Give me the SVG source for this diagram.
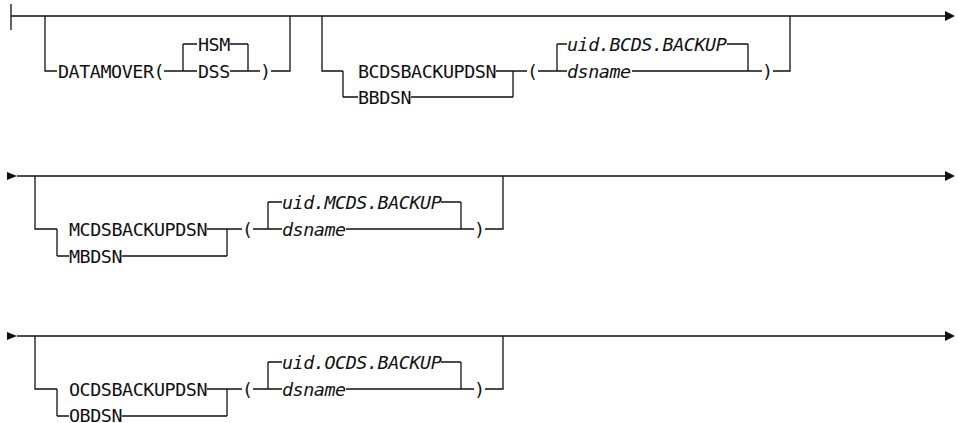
<svg xmlns="http://www.w3.org/2000/svg" width="959" height="423" viewBox="0 0 959 423">
<style>
  .l { stroke: #111; stroke-width: 1.3; fill: none; }
  .t { font-family: "DejaVu Sans Mono", "Liberation Mono", monospace; font-size: 18.4px; letter-spacing: -0.45px; fill: #111; }
  .v { font-style: italic; }
  .a { fill: #111; }
</style>
<rect width="959" height="423" fill="#fff"/>
<g id="connectors">
  <!-- Row 1 -->
  <path class="l" d="M11 4V30 M11 16H946"/>
  <polygon class="a" points="945,11 955,16 945,21"/>
  <path class="l" d="M45 16V71H57 M164 71H183 M183 44V71 M183 44H197 M183 71H197 M230 44H248 M230 71H248 M248 44V71 M248 71H260 M271 71H290V16"/>
  <path class="l" d="M322 16V71H343 M343 71V97 M343 97H358 M496 71H513 M411 97H513 M513 71V97 M513 71H527 M538 71H557 M557 44V71 M557 44H567 M557 71H567 M727 44H748 M632 71H748 M748 44V71 M748 71H762 M773 71H790V16"/>
  <!-- Row 2 -->
  <polygon class="a" points="7,172 17,176 7,180"/>
  <path class="l" d="M17 176H946"/>
  <polygon class="a" points="945,171 955,176 945,181"/>
  <path class="l" d="M35 176V229H57 M57 229V256 M57 256H69 M207 229H227 M122 256H227 M227 229V256 M227 229H242 M253 229H268 M268 202V229 M268 202H282 M268 229H282 M441 202H461 M346 229H461 M461 202V229 M461 229H474 M485 229H503V176"/>
  <!-- Row 3 -->
  <polygon class="a" points="7,332 17,336 7,340"/>
  <path class="l" d="M17 336H946"/>
  <polygon class="a" points="945,331 955,336 945,341"/>
  <path class="l" d="M35 336V389H57 M57 389V416 M57 416H69 M207 389H227 M122 416H227 M227 389V416 M227 389H242 M253 389H268 M268 362V389 M268 362H282 M268 389H282 M441 362H461 M346 389H461 M461 362V389 M461 389H474 M485 389H503V336"/>
</g>
<g id="datamover"><text class="t" x="58" y="77.7">DATAMOVER(</text></g>
<g id="hsm"><text class="t" x="198" y="50.7">HSM</text></g>
<g id="dss"><text class="t" x="198" y="77.7">DSS</text></g>
<g id="close1"><text class="t" x="260" y="77.7">)</text></g>
<g id="bcdsbackupdsn"><text class="t" x="358" y="77.7">BCDSBACKUPDSN</text></g>
<g id="bbdsn"><text class="t" x="358" y="103.7">BBDSN</text></g>
<g id="open2"><text class="t" x="527" y="77.7">(</text></g>
<g id="uid-bcds"><text class="t v" x="567" y="50.7">uid.BCDS.BACKUP</text></g>
<g id="dsname1"><text class="t v" x="567" y="77.7">dsname</text></g>
<g id="close2"><text class="t" x="762" y="77.7">)</text></g>

<g id="mcdsbackupdsn"><text class="t" x="69" y="235.7">MCDSBACKUPDSN</text></g>
<g id="mbdsn"><text class="t" x="69" y="262.7">MBDSN</text></g>
<g id="open3"><text class="t" x="242" y="235.7">(</text></g>
<g id="uid-mcds"><text class="t v" x="282" y="208.7">uid.MCDS.BACKUP</text></g>
<g id="dsname2"><text class="t v" x="282" y="235.7">dsname</text></g>
<g id="close3"><text class="t" x="474" y="235.7">)</text></g>

<g id="ocdsbackupdsn"><text class="t" x="69" y="395.7">OCDSBACKUPDSN</text></g>
<g id="obdsn"><text class="t" x="69" y="421.8">OBDSN</text></g>
<g id="open4"><text class="t" x="242" y="395.7">(</text></g>
<g id="uid-ocds"><text class="t v" x="282" y="368.7">uid.OCDS.BACKUP</text></g>
<g id="dsname3"><text class="t v" x="282" y="395.7">dsname</text></g>
<g id="close4"><text class="t" x="474" y="395.7">)</text></g>
</svg>
